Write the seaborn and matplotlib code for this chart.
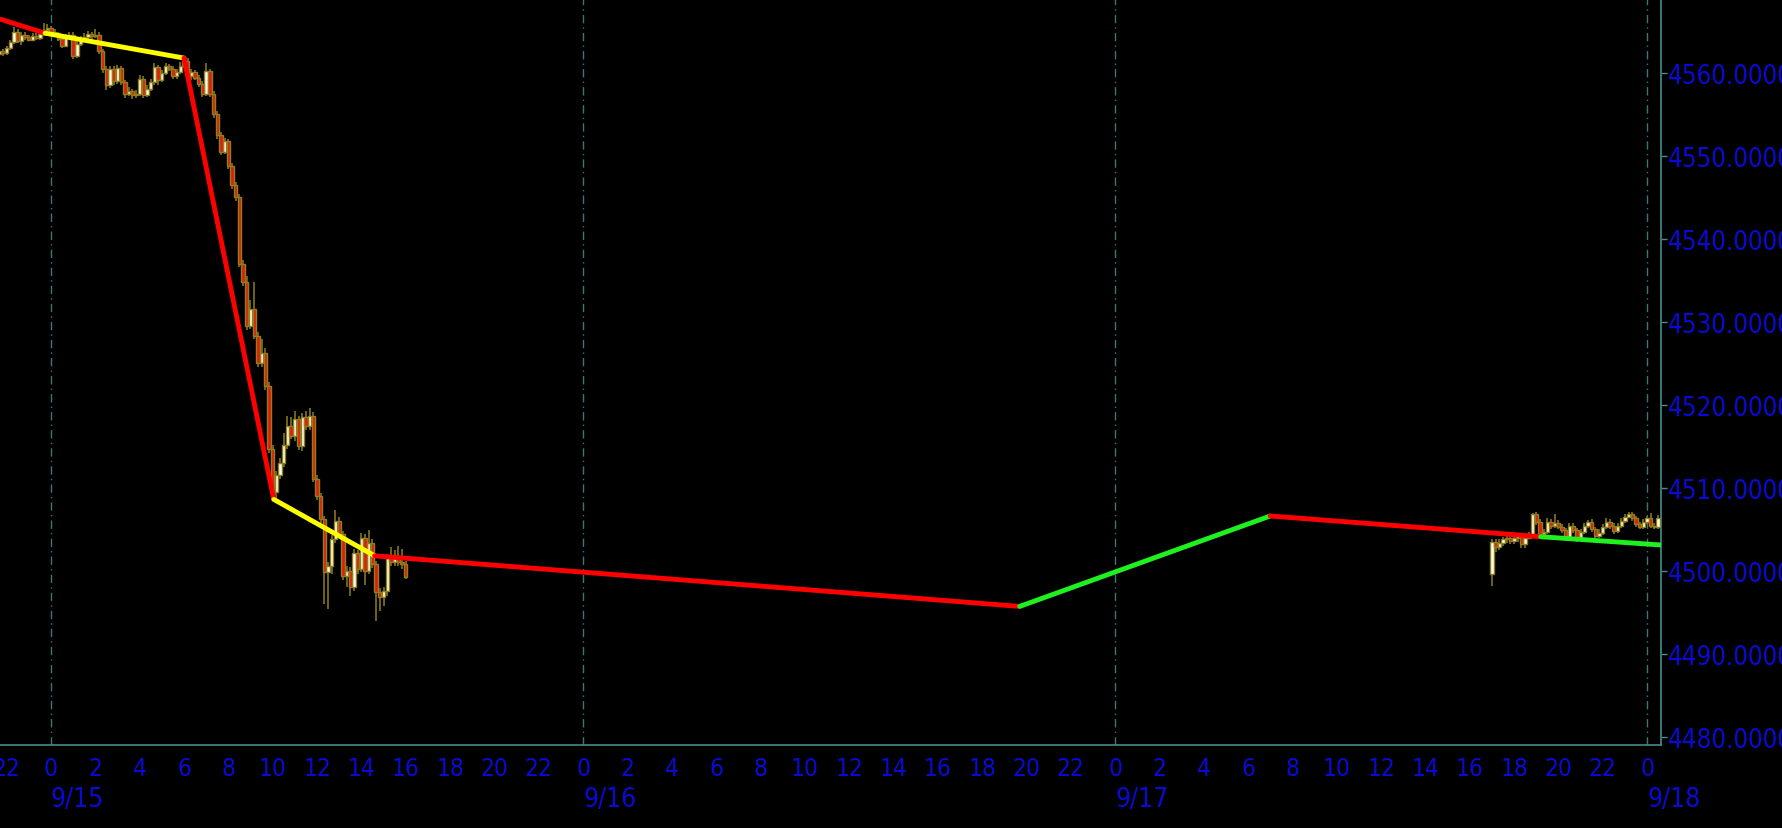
import os
import numpy as np
import pandas as pd
import matplotlib
matplotlib.use("Agg")
import matplotlib.pyplot as plt
import matplotlib.transforms as mtransforms
from matplotlib import font_manager as fm
import seaborn as sns

# ---------------- data ----------------
# session 1: 10-minute bars starting 9/14 21:40
s1_start = "2020-09-14 21:40"
s1_open = [4562.3, 4562.7, 4562.4, 4563.0, 4563.7, 4565.0, 4563.9, 4564.6, 4564.3, 4564.0,
           4564.5, 4564.2, 4564.7, 4565.2, 4565.4, 4565.0, 4564.8, 4564.1, 4563.3, 4564.4,
           4564.6, 4562.0, 4563.5, 4564.0, 4564.3, 4564.7, 4564.4, 4564.6, 4562.6, 4560.5,
           4558.6, 4560.5, 4559.0, 4560.6, 4558.9, 4557.5, 4557.8, 4557.3, 4557.5, 4559.3,
           4557.4, 4558.1, 4558.9, 4560.7, 4559.2, 4560.0, 4560.8, 4560.5, 4559.6, 4560.1,
           4560.9, 4561.5, 4559.6, 4560.1, 4559.4, 4558.7, 4557.5, 4560.2, 4557.5, 4555.0,
           4552.5, 4550.5, 4551.8, 4548.8, 4546.5, 4545.0, 4537.0, 4534.8, 4529.5, 4531.5,
           4528.3, 4525.0, 4526.2, 4522.3, 4514.7, 4509.5, 4511.5, 4513.0, 4515.2, 4517.5,
           4516.3, 4518.3, 4515.0, 4518.5, 4517.4, 4518.7, 4511.1, 4509.0, 4506.2, 4499.8,
           4500.6, 4503.8, 4506.0, 4504.4, 4499.4, 4500.0, 4498.0, 4502.1, 4500.2, 4504.0,
           4500.0, 4503.3, 4500.8, 4497.4, 4496.8, 4497.5, 4501.5, 4501.0, 4501.8, 4501.0,
           4500.8]
s1_high = [4563.0, 4562.9, 4563.2, 4564.0, 4565.5, 4565.3, 4564.9, 4564.9, 4564.6, 4564.8,
           4564.8, 4565.0, 4566.0, 4565.9, 4565.7, 4565.3, 4565.0, 4564.4, 4564.7, 4565.0,
           4564.9, 4563.8, 4564.4, 4564.8, 4565.1, 4565.0, 4565.3, 4564.9, 4562.9, 4560.8,
           4560.9, 4560.8, 4561.0, 4560.9, 4559.2, 4558.3, 4558.1, 4557.9, 4559.8, 4559.6,
           4558.5, 4559.3, 4561.2, 4561.0, 4560.4, 4561.2, 4561.1, 4560.8, 4560.5, 4561.3,
           4561.9, 4561.8, 4560.5, 4560.4, 4559.7, 4559.0, 4561.2, 4560.5, 4557.8, 4555.4,
           4552.9, 4552.2, 4552.1, 4549.2, 4546.9, 4545.4, 4537.5, 4535.5, 4532.6, 4534.8,
           4528.8, 4527.9, 4526.9, 4522.8, 4515.1, 4512.0, 4513.6, 4516.6, 4518.7, 4518.5,
           4519.2, 4518.7, 4519.0, 4519.2, 4519.6, 4519.1, 4511.5, 4509.4, 4506.6, 4501.0,
           4504.3, 4507.3, 4506.5, 4504.8, 4500.6, 4500.4, 4502.6, 4502.5, 4504.5, 4504.4,
           4504.9, 4503.8, 4501.2, 4497.9, 4498.0, 4502.0, 4502.9, 4502.5, 4503.0, 4502.6,
           4501.2]
s1_low = [4562.0, 4562.1, 4562.2, 4562.8, 4563.5, 4563.6, 4563.4, 4564.0, 4563.8, 4563.8,
          4564.0, 4564.0, 4564.5, 4565.0, 4564.7, 4564.4, 4563.9, 4563.0, 4563.1, 4564.1,
          4561.7, 4561.8, 4563.2, 4563.8, 4564.0, 4564.1, 4564.2, 4562.3, 4560.0, 4558.0,
          4558.2, 4558.6, 4558.7, 4558.5, 4557.0, 4557.2, 4556.9, 4557.0, 4557.2, 4557.0,
          4557.1, 4557.8, 4558.6, 4558.5, 4558.9, 4559.7, 4560.2, 4559.3, 4559.3, 4559.9,
          4560.6, 4559.3, 4559.2, 4559.1, 4558.3, 4557.1, 4557.2, 4557.1, 4554.6, 4552.0,
          4550.1, 4550.2, 4548.4, 4546.0, 4544.6, 4536.6, 4534.3, 4529.0, 4529.1, 4527.9,
          4524.5, 4524.6, 4521.8, 4514.2, 4508.6, 4508.5, 4511.0, 4512.5, 4514.7, 4515.9,
          4515.6, 4514.6, 4514.4, 4517.0, 4517.0, 4510.7, 4508.5, 4505.8, 4496.0, 4495.4,
          4499.6, 4503.4, 4503.9, 4498.9, 4498.0, 4497.0, 4497.6, 4499.6, 4499.8, 4498.3,
          4499.6, 4500.3, 4493.9, 4495.2, 4495.8, 4497.0, 4500.6, 4500.6, 4500.6, 4500.2,
          4499.0]
s1_close = [4562.7, 4562.4, 4563.0, 4563.7, 4565.0, 4563.9, 4564.6, 4564.3, 4564.0, 4564.5,
            4564.2, 4564.7, 4565.2, 4565.4, 4565.0, 4564.8, 4564.1, 4563.3, 4564.4, 4564.6,
            4562.0, 4563.5, 4564.0, 4564.3, 4564.7, 4564.4, 4564.6, 4562.6, 4560.5, 4558.6,
            4560.5, 4559.0, 4560.6, 4558.9, 4557.5, 4557.8, 4557.3, 4557.5, 4559.3, 4557.4,
            4558.1, 4558.9, 4560.7, 4559.2, 4560.0, 4560.8, 4560.5, 4559.6, 4560.1, 4560.9,
            4561.5, 4559.6, 4560.1, 4559.4, 4558.7, 4557.5, 4560.2, 4557.5, 4555.0, 4552.5,
            4550.5, 4551.8, 4548.8, 4546.5, 4545.0, 4537.0, 4534.8, 4529.5, 4531.5, 4528.3,
            4525.0, 4526.2, 4522.3, 4514.7, 4509.5, 4511.5, 4513.0, 4515.2, 4517.5, 4516.3,
            4518.3, 4515.0, 4518.5, 4517.4, 4518.7, 4511.1, 4509.0, 4506.2, 4499.8, 4500.6,
            4503.8, 4506.0, 4504.4, 4499.4, 4500.0, 4498.0, 4502.1, 4500.2, 4504.0, 4500.0,
            4503.3, 4500.8, 4497.4, 4496.8, 4497.5, 4501.5, 4501.0, 4501.8, 4501.0, 4500.8,
            4499.3]

# session 2: 10-minute bars starting 9/17 17:00
s2_start = "2020-09-17 17:00"
s2_open = [4499.6, 4503.5, 4502.9, 4503.4, 4503.8, 4504.0, 4503.6, 4504.0, 4504.2, 4503.2,
           4504.0, 4504.3, 4506.8, 4505.9, 4504.4, 4504.7, 4505.9, 4505.4, 4505.8, 4505.3,
           4504.9, 4503.9, 4505.4, 4504.9, 4503.9, 4504.7, 4505.4, 4505.9, 4505.0, 4504.2,
           4504.6, 4505.3, 4505.9, 4505.4, 4504.8, 4505.4, 4506.0, 4506.5, 4506.8, 4506.3,
           4505.6, 4505.3, 4505.9, 4506.3, 4505.4, 4505.3]
s2_high = [4503.8, 4503.8, 4503.8, 4504.1, 4504.3, 4504.4, 4504.4, 4504.6, 4504.5, 4504.4,
           4504.7, 4507.0, 4507.1, 4506.2, 4505.0, 4506.3, 4506.2, 4506.8, 4506.1, 4505.6,
           4505.2, 4505.8, 4505.7, 4505.2, 4505.0, 4505.8, 4506.1, 4506.2, 4505.3, 4505.0,
           4505.6, 4506.3, 4506.2, 4505.7, 4505.7, 4506.3, 4506.8, 4507.1, 4507.1, 4506.6,
           4505.9, 4506.2, 4506.6, 4506.9, 4505.7, 4506.7]
s2_low = [4498.2, 4502.3, 4502.5, 4503.0, 4503.4, 4503.2, 4503.2, 4503.5, 4502.7, 4502.8,
          4503.8, 4504.0, 4505.5, 4504.0, 4504.0, 4504.4, 4505.0, 4505.1, 4505.0, 4504.5,
          4503.6, 4503.6, 4504.5, 4503.5, 4503.6, 4504.4, 4505.1, 4504.7, 4503.9, 4503.9,
          4504.3, 4505.0, 4505.0, 4504.4, 4504.5, 4505.1, 4505.7, 4506.3, 4506.0, 4505.3,
          4505.0, 4505.0, 4505.6, 4505.1, 4505.0, 4505.0]
s2_close = [4503.5, 4502.9, 4503.4, 4503.8, 4504.0, 4503.6, 4504.0, 4504.2, 4503.2, 4504.0,
            4504.3, 4506.8, 4505.9, 4504.4, 4504.7, 4505.9, 4505.4, 4505.8, 4505.3, 4504.9,
            4503.9, 4505.4, 4504.9, 4503.9, 4504.7, 4505.4, 4505.9, 4505.0, 4504.2, 4504.6,
            4505.3, 4505.9, 4505.4, 4504.8, 4505.4, 4506.0, 4506.5, 4506.8, 4506.3, 4505.6,
            4505.3, 4505.9, 4506.3, 4505.4, 4505.3, 4506.4]

# zigzag indicator vertices (time, price)
zz_times = ["2020-09-14 21:42", "2020-09-14 23:44", "2020-09-15 06:00", "2020-09-15 10:03",
            "2020-09-15 14:36", "2020-09-16 19:42", "2020-09-17 07:00", "2020-09-17 19:12",
            "2020-09-18 00:38"]
zz_prices = [4566.5, 4564.8, 4561.8, 4508.6, 4501.8, 4495.7, 4506.6, 4504.1, 4503.1]
zz_colors = ["#FF0000", "#FFFF00", "#FF0000", "#FFFF00", "#FF0000", "#1FF01F", "#FF0000", "#1FF01F"]

day_labels = ["9/15", "9/16", "9/17", "9/18"]
y_ticks = [4480, 4490, 4500, 4510, 4520, 4530, 4540, 4550, 4560, 4570]

# ---------------- build frames ----------------
ref = pd.Timestamp("2020-09-15 00:00")
def hours(ts):
    return (pd.to_datetime(ts) - ref) / pd.Timedelta(hours=1)

def session(start, o, h, l, c):
    t = pd.date_range(start, periods=len(c), freq="10min")
    return pd.DataFrame({"t": hours(t), "open": o, "high": h, "low": l, "close": c})

bars = pd.concat([session(s1_start, s1_open, s1_high, s1_low, s1_close),
                  session(s2_start, s2_open, s2_high, s2_low, s2_close)], ignore_index=True)
zz = pd.DataFrame({"t": hours(pd.Series(zz_times)), "p": zz_prices})

# ---------------- style ----------------
sns.set_style("dark", {"axes.facecolor": "black", "figure.facecolor": "black"})
plt.rcParams["font.family"] = ["Liberation Sans", "DejaVu Sans"]

# look for a narrow / condensed regular face
bad = ("bold", "italic", "oblique", "light", "thin", "medium", "black", "semi", "extra", "heavy")
cond = {}
for f in fm.fontManager.ttflist:
    fn = os.path.basename(f.fname).lower()
    if ("narrow" in fn or "condensed" in fn) and not any(b in fn for b in bad):
        cond[fn] = f.fname
pick = None
for pref in ["liberationsansnarrow-regular", "liberationsansnarrow", "dejavusanscondensed.",
             "robotocondensed-regular", "opensans_condensed", "opensans-condensed"]:
    for fn, path in cond.items():
        if fn.startswith(pref):
            pick = path
            break
    if pick:
        break
if pick:
    YS, XS, DS = 18.5, 17.5, 19
    YFP = fm.FontProperties(fname=pick, size=YS)
    XFP = fm.FontProperties(fname=pick, size=XS)
    DFP = fm.FontProperties(fname=pick, size=DS)
else:
    YS, XS, DS = 17, 15, 16
    YFP = fm.FontProperties(family="Liberation Sans", size=YS)
    XFP = fm.FontProperties(family="Liberation Sans", size=XS)
    DFP = fm.FontProperties(family="Liberation Sans", size=DS)

BLUE = "#0A0AD8"
TEAL = "#468C8C"
GRID = "#3A7878"
EDGE = "#8F7F1F"

fig = plt.figure(figsize=(17.83, 8.29), dpi=100, facecolor="black")
ax = fig.add_axes([0.0, 0.1005, 0.9316, 0.8995])
ax.set_facecolor("black")

x_lo, x_hi = -2.30, 72.63
y_lo, y_hi = 4479.03, 4568.92

# day separators
for d in [0, 24, 48, 72]:
    ax.axvline(d, color=GRID, lw=1.0, ls=(0, (6, 3, 1, 3)), zorder=1)

# candles
up = bars["close"] >= bars["open"]
ax.vlines(bars["t"], bars["low"], bars["high"], color=EDGE, lw=1.1, zorder=2)
body = (bars["close"] - bars["open"]).abs().clip(lower=0.15)
bottom = np.minimum(bars["open"], bars["close"])
ax.bar(bars["t"][up], body[up], bottom=bottom[up], width=0.15,
       color="#FFFFEC", edgecolor=EDGE, linewidth=1.0, zorder=3)
ax.bar(bars["t"][~up], body[~up], bottom=bottom[~up], width=0.15,
       color="#E51B0B", edgecolor=EDGE, linewidth=1.0, zorder=3)

# zigzag
for k, col in enumerate(zz_colors):
    seg = zz.iloc[k:k + 2]
    sns.lineplot(data=seg, x="t", y="p", color=col, lw=3.5, ax=ax, zorder=5,
                 estimator=None, sort=False)

ax.set_xlim(x_lo, x_hi)
ax.set_ylim(y_lo, y_hi)
ax.set_xlabel("")
ax.set_ylabel("")
ax.grid(False)

# spines
for s in ["left", "top"]:
    ax.spines[s].set_visible(False)
for s in ["right", "bottom"]:
    ax.spines[s].set_visible(True)
    ax.spines[s].set_color(TEAL)
    ax.spines[s].set_linewidth(1.2)

# y axis on the right
ax.yaxis.tick_right()
ax.set_yticks(y_ticks[:-1])
ax.set_yticklabels([f"{v:.4f}" for v in y_ticks[:-1]])
ax.tick_params(axis="y", which="both", direction="out", length=4, width=1, color=TEAL,
               labelcolor=BLUE, pad=1, left=False, right=True,
               labelleft=False, labelright=True)
for lbl in ax.get_yticklabels():
    lbl.set_fontproperties(YFP)
top_lab = ax.text(1.0, y_ticks[-1], f"{y_ticks[-1]:.4f}",
                  transform=mtransforms.blended_transform_factory(ax.transAxes, ax.transData)
                  + mtransforms.ScaledTranslation(5 / 100, 0, fig.dpi_scale_trans),
                  ha="left", va="center", color=BLUE, fontproperties=YFP, clip_on=False)

# x axis hours
hticks = list(range(-2, 73, 2))
ax.set_xticks(hticks)
ax.set_xticklabels([str(h % 24) for h in hticks])
ax.set_xticks(list(range(-2, 73, 1)), minor=True)
ax.tick_params(axis="x", which="major", direction="out", length=4, width=1, color=TEAL,
               labelcolor=BLUE, pad=4)
ax.tick_params(axis="x", which="minor", direction="out", length=3, width=1, color=TEAL)
for lbl in ax.get_xticklabels():
    lbl.set_fontproperties(XFP)

# date labels under the midnight ticks
btf = mtransforms.blended_transform_factory(ax.transData, ax.transAxes)
for d, lab in zip([0, 24, 48, 72], day_labels):
    ax.text(d + 0.0, -0.073, lab, transform=btf, ha="left", va="center",
            color=BLUE, fontproperties=DFP, clip_on=False)

fig.savefig("out.png", dpi=100, facecolor="black")
